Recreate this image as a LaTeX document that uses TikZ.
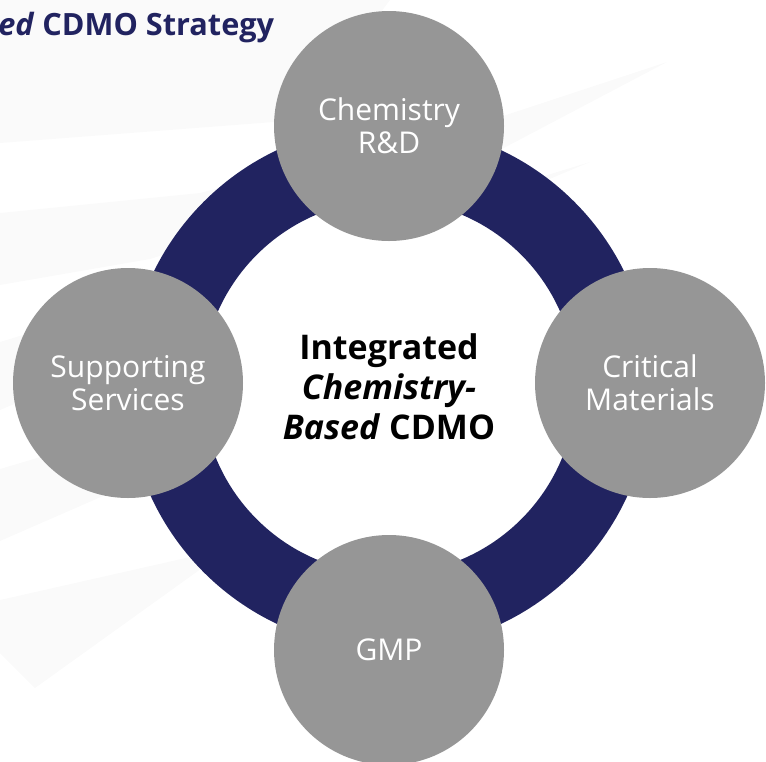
\documentclass[tikz,border=0pt]{standalone}
\usepackage{fontspec}
\setmainfont{Open Sans}
\definecolor{ringblue}{RGB}{33,35,96}
\definecolor{discgray}{RGB}{150,150,150}
\definecolor{swoosh}{RGB}{250,250,250}

\begin{document}
\begin{tikzpicture}[x=0.75pt, y=-0.75pt,
disc/.style={circle, fill=discgray, inner sep=0pt, minimum size=172.5pt,
  text=white, align=center, font=\fontsize{22.5}{24.75}\selectfont},
core/.style={align=center, font=\bfseries\fontsize{25.5}{30}\selectfont}]
\useasboundingbox (0,0) rectangle (766,761);

% faint swooshes in the background
\fill[swoosh] (0,0) -- (390,0) -- (300,120) -- (0,143) -- cycle;
\fill[swoosh] (0,213) -- (200,193) -- (500,117) -- (667,62) -- (500,150) -- (150,259) -- (0,285) -- cycle;
\fill[swoosh] (0,342) -- (590,162) -- (0,410) -- cycle;
\fill[swoosh] (0,469) -- (300,380) -- (110,493) -- (0,541) -- cycle;
\fill[swoosh] (0,600) -- (230,548) -- (35,688) -- (0,653) -- cycle;

% ring
\coordinate (hub) at (389,387);
\fill[white] (hub) circle[radius=187];
\draw[ringblue, line width=56.25pt] (hub) circle[radius=224.5];

\node[disc] (rnd) at (389,126) {Chemistry\\R\&D};
\node[disc] (support) at (128,383) {Supporting\\Services};
\node[disc] (materials) at (650,383) {Critical\\Materials};
\node[disc] (gmp) at (389,650) {GMP};

\node[core] (cdmo) at (hub) {Integrated\\\textit{Chemistry-}\\\textit{Based} CDMO};

\node[anchor=base west, inner sep=0pt, text=ringblue,
  font=\bfseries\fontsize{23}{27}\selectfont] (title) at (-2,35) {\textit{ed} CDMO Strategy};
\end{tikzpicture}
\end{document}
